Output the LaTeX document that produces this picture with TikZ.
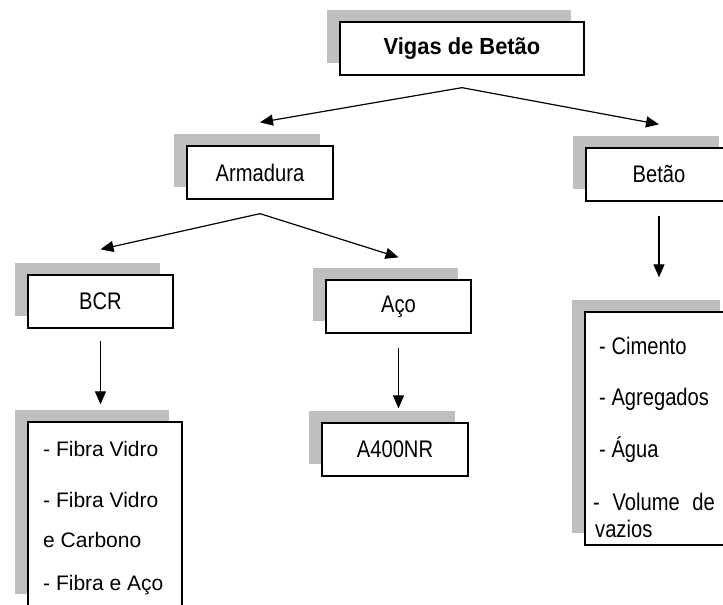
\documentclass[tikz,border=0pt]{standalone}
\usepackage{fontspec}
\setmainfont{Liberation Sans}
\newfontfamily\narrowfont{Liberation Sans}[FakeStretch=0.84]
\newfontfamily\titlefont{Liberation Sans}[FakeStretch=0.94]
\usetikzlibrary{arrows.meta,shadows}

\tikzset{
  box/.style={draw, line width=1.3pt, fill=white, minimum width=146pt,
    minimum height=53pt, inner sep=0pt,
    font=\narrowfont\fontsize{24}{28}\selectfont,
    drop shadow={shadow xshift=-13pt, shadow yshift=12pt, fill=black!25, opacity=1}},
  link/.style={-{Triangle[length=13pt,width=11pt]}, line width=1.2pt},
  item/.style={anchor=base west, inner sep=0pt},
}

\begin{document}
\begin{tikzpicture}[x=1pt,y=-1pt]
  \useasboundingbox (0,0) rectangle (723,605);

  \node[box, minimum width=244pt, font=\titlefont\bfseries\fontsize{23.3}{28}\selectfont] (vigas) at (462,48.5) {Vigas de Betão};
  \node[box] (armadura) at (260,172.5) {Armadura};
  \node[box] (betao) at (659,174.5) {Betão};
  \node[box, minimum width=145pt] (bcr) at (100.5,301.5) {BCR};
  \node[box, minimum width=145pt] (aco) at (398.5,306.5) {Aço};
  \node[box] (a400) at (395,449.5) {A400NR};
  \node[box, minimum width=154pt, minimum height=184pt] (fibras) at (105,514) {};
  \node[box, minimum width=148pt, minimum height=233pt] (materiais) at (659,428.5) {};

  \foreach \txt/\yy [count=\i] in {- Fibra Vidro/456, - Fibra Vidro/507, e Carbono/547, - Fibra e Aço/590}
    \node[item, font=\fontsize{21}{25}\selectfont] (fib\i) at (43,\yy) {\txt};
  \foreach \xx/\yy/\txt [count=\i] in {599/354/- Cimento, 599/405/- Agregados, 599/457/- Água,
      593/510/-\hspace{7pt} Volume\hspace{7pt} de, 595/537/vazios}
    \node[item, font=\narrowfont\fontsize{24}{28}\selectfont] (mat\i) at (\xx,\yy) {\txt};

  \coordinate (vsplit) at ([yshift=-12pt]vigas.south);
  \coordinate (asplit) at ([yshift=-14pt]armadura.south);
  \coordinate (fibtop) at (bcr.south |- fibras.north);
  \coordinate (a4top) at (aco.south |- a400.north);
  \coordinate (mattop) at (betao.south |- materiais.north);

  \draw[link] (vsplit) -- ([yshift=23pt]armadura.north);
  \draw[link] (vsplit) -- ([yshift=23pt]betao.north);
  \draw[link] (asplit) -- ([yshift=25pt]bcr.north);
  \draw[link] (asplit) -- ([yshift=22pt]aco.north);
  \draw[link] ([yshift=-12pt]bcr.south) -- ([yshift=17pt]fibtop);
  \draw[link] ([yshift=-14pt]aco.south) -- ([yshift=14pt]a4top);
  \draw[link] ([yshift=-14pt]betao.south) -- ([yshift=34pt]mattop);
\end{tikzpicture}
\end{document}
